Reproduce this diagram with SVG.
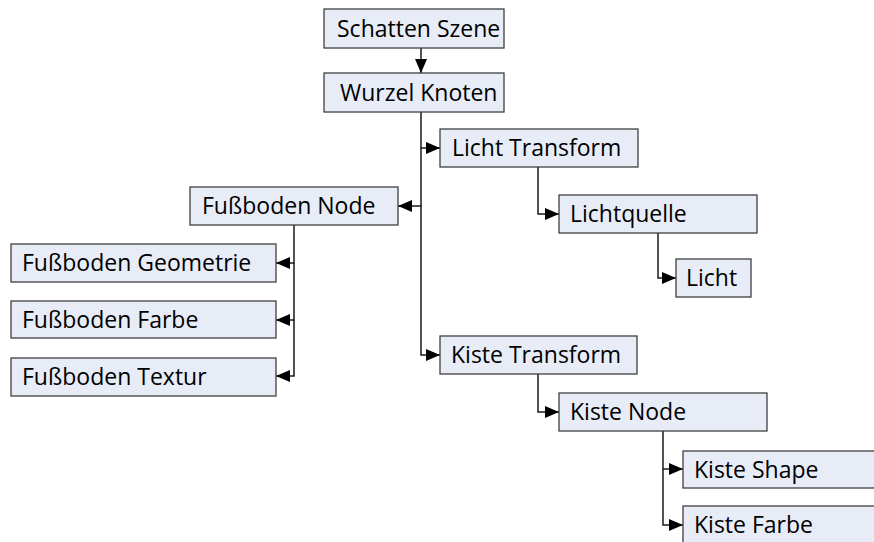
<svg xmlns="http://www.w3.org/2000/svg" width="874" height="542" viewBox="0 0 874 542">
  <defs>
    <marker id="arrow" viewBox="0 0 14 12" refX="14" refY="6" markerWidth="14" markerHeight="12" markerUnits="userSpaceOnUse" orient="auto">
      <path d="M0,0 L14,6 L0,12 z" fill="#000"/>
    </marker>
    <style>
      .box { fill: #e7ecf7; stroke: #404040; stroke-width: 1.3; }
      .lbl { font-family: "Open Sans", "Liberation Sans", sans-serif; font-size: 23px; fill: #000; }
      .wire { fill: none; stroke: #1a1a1a; stroke-width: 1.5; marker-end: url(#arrow); }
    </style>
  </defs>
  <rect width="874" height="542" fill="#fff"/>

  <g id="connectors">
    <path class="wire" d="M421,48 V73"/>
    <path class="wire" d="M421,112 V148 H440"/>
    <path class="wire" d="M421,148 V206 H398"/>
    <path class="wire" d="M421,206 V355 H440"/>
    <path class="wire" d="M538,167 V214 H559"/>
    <path class="wire" d="M658,233 V278 H676"/>
    <path class="wire" d="M294,225 V263 H276"/>
    <path class="wire" d="M294,263 V320 H276"/>
    <path class="wire" d="M294,320 V376 H276"/>
    <path class="wire" d="M538,374 V412 H559"/>
    <path class="wire" d="M663,431 V469 H683"/>
    <path class="wire" d="M663,469 V525 H683"/>
  </g>

  <g id="schatten-szene">
    <rect class="box" x="324" y="9" width="180" height="39"/>
    <text class="lbl" x="337" y="37">Schatten Szene</text>
  </g>
  <g id="wurzel-knoten">
    <rect class="box" x="324" y="73" width="180" height="39"/>
    <text class="lbl" x="340" y="101">Wurzel Knoten</text>
  </g>
  <g id="licht-transform">
    <rect class="box" x="440" y="129" width="198" height="38"/>
    <text class="lbl" x="452" y="156">Licht Transform</text>
  </g>
  <g id="fussboden-node">
    <rect class="box" x="190" y="187" width="208" height="38"/>
    <text class="lbl" x="202" y="214">Fußboden Node</text>
  </g>
  <g id="lichtquelle">
    <rect class="box" x="559" y="195" width="198" height="38"/>
    <text class="lbl" x="570" y="222">Lichtquelle</text>
  </g>
  <g id="fussboden-geometrie">
    <rect class="box" x="11" y="244" width="265" height="38"/>
    <text class="lbl" x="22" y="271">Fußboden Geometrie</text>
  </g>
  <g id="licht">
    <rect class="box" x="676" y="259" width="75" height="38"/>
    <text class="lbl" x="686" y="286">Licht</text>
  </g>
  <g id="fussboden-farbe">
    <rect class="box" x="11" y="301" width="265" height="37"/>
    <text class="lbl" x="22" y="328">Fußboden Farbe</text>
  </g>
  <g id="fussboden-textur">
    <rect class="box" x="11" y="358" width="265" height="38"/>
    <text class="lbl" x="22" y="385">Fußboden Textur</text>
  </g>
  <g id="kiste-transform">
    <rect class="box" x="440" y="336" width="197" height="38"/>
    <text class="lbl" x="451" y="363">Kiste Transform</text>
  </g>
  <g id="kiste-node">
    <rect class="box" x="559" y="393" width="208" height="38"/>
    <text class="lbl" x="570" y="420">Kiste Node</text>
  </g>
  <g id="kiste-shape">
    <rect class="box" x="683" y="451" width="200" height="37"/>
    <text class="lbl" x="694" y="478">Kiste Shape</text>
  </g>
  <g id="kiste-farbe">
    <rect class="box" x="683" y="506" width="200" height="50"/>
    <text class="lbl" x="694" y="533">Kiste Farbe</text>
  </g>
</svg>
